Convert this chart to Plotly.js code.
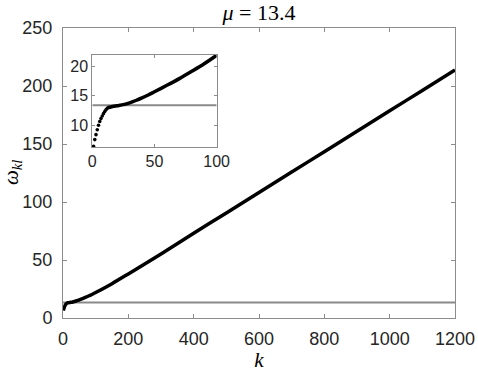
<!DOCTYPE html>
<html>
<head>
<meta charset="utf-8">
<script src="https://cdn.plot.ly/plotly-3.0.1.min.js"></script>
<style>
  html, body { margin: 0; padding: 0; background: #fff; }
  #plot { width: 478px; height: 372px; }
</style>
</head>
<body>
<div id="plot"></div>
<script>
const mu = 13.4;

// small k: the separate dots seen in the inset
const kDots = [1, 2, 3, 4, 5, 6, 7, 8, 9, 10, 11, 12, 13];
const omegaDots = [6.35, 7.5, 8.35, 9.2, 9.95, 10.6, 11.1, 11.55, 11.95, 12.3, 12.6, 12.85, 13.0];

// where the dots merge into a thick line (inset range)
const kNear = [15, 20, 25, 30, 35, 40, 45, 50, 60, 70, 80, 90, 100];
const omegaNear = [13.1, 13.3, 13.5, 13.8, 14.2, 14.65, 15.15, 15.7, 16.8, 17.95, 19.2, 20.5, 21.95];

// large k
const kFar = [150, 200, 250, 300, 400, 500, 600, 700, 800, 900, 1000, 1100, 1200];
const omegaFar = [29.6, 38.0, 46.5, 55.2, 73.0, 90.6, 108.2, 125.8, 143.4, 161.0, 178.6, 196.2, 213.8];

const kMuMain = [0, 1200];
const kMuInset = [0, 100];

const xTicksMain = [0, 200, 400, 600, 800, 1000, 1200];
const yTicksMain = [0, 50, 100, 150, 200, 250];
const xTicksInset = [0, 50, 100];
const yTicksInset = [10, 15, 20];

const BOX = '#8c8c8c';
const TXT = '#262626';
const MULINE = '#8a8a8a';

const kMain = kDots.concat(kNear, kFar);
const omegaMain = omegaDots.concat(omegaNear, omegaFar);
const kInsetLine = [kDots[kDots.length - 1]].concat(kNear);
const omegaInsetLine = [omegaDots[omegaDots.length - 1]].concat(omegaNear);

const traces = [
    {
        x: kMuMain, y: kMuMain.map(() => mu),
        type: 'scatter', mode: 'lines',
        line: {color: MULINE, width: 2},
        xaxis: 'x', yaxis: 'y', hoverinfo: 'skip'
    },
    {
        x: kMain, y: omegaMain,
        type: 'scatter', mode: 'lines',
        line: {color: '#000', width: 3.5, shape: 'spline', smoothing: 0.8},
        xaxis: 'x', yaxis: 'y'
    },
    {
        x: kMuInset, y: kMuInset.map(() => mu),
        type: 'scatter', mode: 'lines',
        line: {color: MULINE, width: 2},
        xaxis: 'x2', yaxis: 'y2', hoverinfo: 'skip'
    },
    {
        x: kInsetLine, y: omegaInsetLine,
        type: 'scatter', mode: 'lines',
        line: {color: '#000', width: 3.5, shape: 'spline', smoothing: 0.8},
        xaxis: 'x2', yaxis: 'y2', cliponaxis: false
    },
    {
        x: kDots, y: omegaDots,
        type: 'scatter', mode: 'markers',
        marker: {color: '#000', size: 3.6},
        xaxis: 'x2', yaxis: 'y2', cliponaxis: false
    }
];

function axisBase(tickvals, range, fontSize) {
    return {
        range: range,
        tickmode: 'array',
        tickvals: tickvals,
        ticktext: tickvals.map(String),
        ticks: 'inside',
        ticklen: 4,
        tickcolor: BOX,
        tickwidth: 1,
        showline: true,
        linecolor: BOX,
        linewidth: 1,
        mirror: 'ticks',
        showgrid: false,
        zeroline: false,
        tickfont: {family: 'Liberation Sans, Arial, sans-serif', size: fontSize, color: TXT}
    };
}

const serif = {family: 'Liberation Serif, serif', size: 21, color: '#000'};

const layout = {
    width: 478,
    height: 372,
    margin: {l: 63, r: 23, t: 28, b: 53.5},
    paper_bgcolor: '#fff',
    plot_bgcolor: '#fff',
    showlegend: false,
    title: {
        text: '<i>μ</i> = 13.4',
        font: {family: 'Liberation Serif, serif', size: 22, color: '#000'},
        x: 0.5, xref: 'paper', xanchor: 'center',
        y: 1 - 12 / 372, yref: 'container', yanchor: 'middle'
    },
    xaxis: Object.assign(axisBase(xTicksMain, [0, 1200], 18), {
        domain: [0, 1], anchor: 'y',
        ticklabelstandoff: 4,
        title: {text: '<i>k</i>', standoff: 0, font: serif}
    }),
    yaxis: Object.assign(axisBase(yTicksMain, [0, 250], 18), {
        domain: [0, 1], anchor: 'x',
        ticklabelstandoff: 6
    }),
    xaxis2: Object.assign(axisBase(xTicksInset, [0, 100], 16), {
        domain: [0.0747, 0.392], anchor: 'y2', ticklen: 3
    }),
    yaxis2: Object.assign(axisBase(yTicksInset, [6.3, 22.0], 16), {
        domain: [0.591, 0.907], anchor: 'x2', ticklen: 3
    }),
    // y-axis label placed by hand, further out than the axis title would go
    annotations: [{
        text: '<i>ω</i><sub><i>kl</i></sub>',
        font: serif,
        textangle: -90,
        xref: 'paper', yref: 'paper',
        x: (12 - 63) / 392, y: 0.5,
        xanchor: 'center', yanchor: 'middle',
        showarrow: false
    }]
};

Plotly.newPlot('plot', traces, layout, {staticPlot: true, displayModeBar: false});
</script>
</body>
</html>
